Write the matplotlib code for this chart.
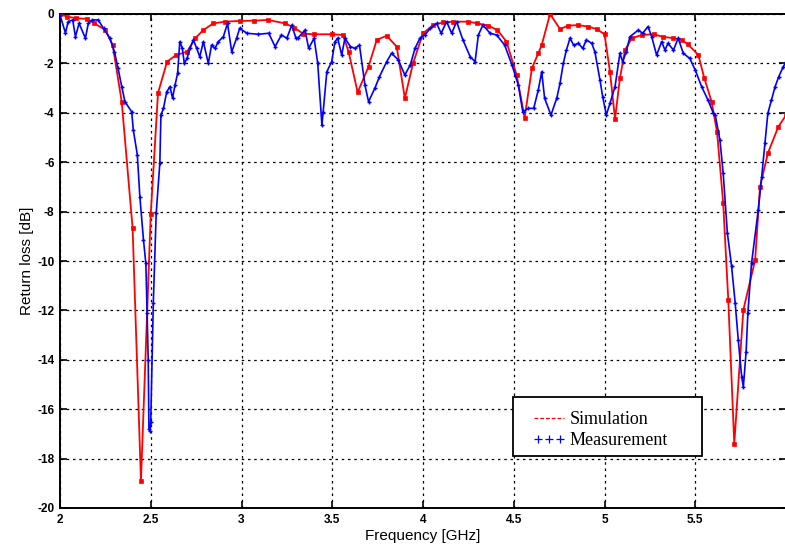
import matplotlib
matplotlib.use("Agg")
from matplotlib import pyplot as plt
from matplotlib.lines import Line2D
from matplotlib.patches import Rectangle
from matplotlib.legend_handler import HandlerLine2D
import numpy as np

# simulation (red), frequency in GHz / return loss in dB
sim_freq = [2.00, 2.04, 2.09, 2.15, 2.19, 2.25, 2.29, 2.34, 2.40, 2.446,
            2.50, 2.54, 2.59, 2.64, 2.70, 2.745, 2.79, 2.845, 2.91, 2.99,
            3.07, 3.145, 3.24, 3.29, 3.34, 3.40, 3.50, 3.56, 3.59, 3.64,
            3.70, 3.745, 3.80, 3.855, 3.90, 3.945, 4.00, 4.057, 4.11, 4.165,
            4.25, 4.30, 4.36, 4.41, 4.46, 4.516, 4.56, 4.60, 4.635, 4.654,
            4.70, 4.755, 4.80, 4.855, 4.91, 4.957, 5.00, 5.03, 5.058, 5.085,
            5.113, 5.15, 5.205, 5.27, 5.32, 5.38, 5.425, 5.46, 5.517, 5.55,
            5.59, 5.62, 5.654, 5.682, 5.715, 5.765, 5.83, 5.857, 5.90, 5.958,
            6.00]
sim_db = [0.0, -0.11, -0.17, -0.20, -0.38, -0.65, -1.25, -3.55, -8.66, -18.9,
          -8.1, -3.2, -1.93, -1.66, -1.53, -0.98, -0.65, -0.38, -0.31, -0.28,
          -0.27, -0.24, -0.38, -0.55, -0.80, -0.82, -0.82, -0.85, -1.53, -3.17,
          -2.13, -1.05, -0.88, -1.32, -3.41, -2.0, -0.78, -0.45, -0.34, -0.31,
          -0.31, -0.38, -0.47, -0.65, -1.12, -2.47, -4.2, -2.2, -1.59, -1.26,
          0.0, -0.61, -0.47, -0.45, -0.51, -0.61, -0.82, -2.33, -4.25, -2.6,
          -1.46, -0.98, -0.85, -0.82, -0.92, -0.98, -1.05, -1.23, -1.66, -2.6,
          -3.55, -4.77, -7.66, -11.58, -17.4, -11.98, -9.96, -6.99, -5.64, -4.56,
          -4.1]

# measurement (blue)
meas_freq = [2.00, 2.03, 2.045, 2.07, 2.085, 2.105, 2.14, 2.156, 2.178, 2.21,
             2.24, 2.275, 2.30, 2.32, 2.34, 2.358, 2.395, 2.404, 2.426, 2.44,
             2.46, 2.473, 2.48, 2.486, 2.49, 2.496, 2.50, 2.514, 2.53, 2.55,
             2.556, 2.57, 2.588, 2.606, 2.62, 2.634, 2.648, 2.66, 2.674, 2.685,
             2.70, 2.716, 2.735, 2.753, 2.77, 2.79, 2.817, 2.835, 2.854, 2.872,
             2.90, 2.923, 2.946, 2.973, 2.99, 3.03, 3.093, 3.15, 3.185, 3.22,
             3.25, 3.277, 3.30, 3.31, 3.35, 3.37, 3.40, 3.42, 3.443, 3.45,
             3.47, 3.497, 3.515, 3.53, 3.552, 3.57, 3.60, 3.625, 3.65, 3.68,
             3.70, 3.735, 3.76, 3.80, 3.827, 3.864, 3.90, 3.93, 3.956, 3.983,
             4.01, 4.04, 4.075, 4.10, 4.13, 4.158, 4.185, 4.22, 4.26, 4.287,
             4.305, 4.33, 4.37, 4.406, 4.45, 4.49, 4.525, 4.55, 4.58, 4.61,
             4.635, 4.654, 4.67, 4.705, 4.737, 4.755, 4.773, 4.79, 4.81, 4.83,
             4.856, 4.88, 4.90, 4.93, 4.947, 4.975, 4.99, 5.01, 5.03, 5.058,
             5.085, 5.10, 5.12, 5.14, 5.186, 5.21, 5.24, 5.26, 5.287, 5.315,
             5.333, 5.35, 5.38, 5.406, 5.434, 5.47, 5.50, 5.535, 5.57, 5.60,
             5.61, 5.636, 5.654, 5.677, 5.70, 5.72, 5.737, 5.756, 5.765, 5.78,
             5.79, 5.81, 5.847, 5.866, 5.884, 5.90, 5.92, 5.94, 5.96, 5.985,
             6.00]
meas_db = [-0.04, -0.77, -0.31, -0.24, -0.92, -0.38, -0.98, -0.38, -0.24, -0.24,
           -0.58, -0.98, -1.53, -2.2, -2.94, -3.55, -3.96, -4.7, -5.7, -7.4,
           -9.15, -10.1, -12.1, -14.0, -16.8, -16.9, -16.5, -11.7, -8.07, -6.05,
           -4.09, -3.82, -3.15, -2.94, -3.41, -2.87, -2.4, -1.12, -1.39, -2.0,
           -1.8, -1.39, -1.05, -1.39, -1.73, -1.12, -2.0, -1.26, -1.39, -1.12,
           -0.92, -0.38, -1.53, -0.98, -0.58, -0.78, -0.82, -0.78, -1.32, -0.85,
           -0.98, -0.45, -0.98, -0.98, -0.65, -1.39, -0.98, -2.0, -4.5, -3.96,
           -2.34, -1.93, -1.12, -0.98, -1.66, -0.98, -1.32, -1.39, -1.26, -2.87,
           -3.55, -3.0, -2.54, -1.93, -1.59, -1.86, -2.47, -2.06, -1.39, -0.98,
           -0.85, -0.58, -0.38, -0.78, -0.31, -0.78, -0.31, -1.05, -1.73, -1.93,
           -0.85, -0.45, -0.78, -0.85, -1.26, -2.06, -2.87, -3.96, -3.82, -3.82,
           -3.08, -2.34, -3.41, -4.09, -3.41, -2.8, -2.0, -1.46, -0.98, -1.26,
           -1.19, -1.39, -1.05, -1.19, -1.53, -2.67, -3.35, -4.09, -3.62, -2.94,
           -1.59, -1.93, -1.53, -0.92, -0.65, -0.78, -0.51, -0.92, -1.66, -1.12,
           -1.46, -1.19, -1.46, -0.98, -1.59, -1.8, -2.27, -2.94, -3.48, -4.02,
           -4.09, -5.1, -6.45, -8.87, -10.2, -11.7, -13.2, -14.7, -15.1, -13.7,
           -12.1, -10.1, -7.94, -6.59, -5.24, -4.02, -3.48, -2.94, -2.54, -2.13,
           -1.95]

xticks = [2, 2.5, 3, 3.5, 4, 4.5, 5, 5.5, 6]
xtick_labels = ["2", "2.5", "3", "3.5", "4", "4.5", "5", "5.5", ""]
yticks = list(range(-20, 1, 2))
legend_labels = ["Simulation", "Measurement"]

plt.rcParams["axes.unicode_minus"] = False
plt.rcParams["font.family"] = ["Liberation Sans", "DejaVu Sans"]

fig = plt.figure(figsize=(7.85, 5.46), dpi=100)
ax = fig.add_axes([60 / 785, 38 / 546, 726 / 785, 494 / 546])

ax.plot(sim_freq, sim_db, color="red", lw=1.3, marker="s", ms=3.0,
        markeredgewidth=0.5, zorder=3)
ax.plot(meas_freq, meas_db, color="blue", lw=1.2, marker="+", ms=3.5,
        markeredgewidth=1.0, zorder=4)

ax.set_xlim(2, 6)
ax.set_ylim(-20, 0)
ax.set_xticks(xticks)
ax.set_xticklabels(xtick_labels)
ax.set_yticks(yticks)
ax.grid(True, color="black", linestyle=(0, (2, 3)), lw=0.9)
ax.tick_params(direction="in", length=5, width=1.2, top=True, right=True,
               labelsize=8.5, pad=4)
for lab in ax.get_xticklabels() + ax.get_yticklabels():
    lab.set_fontweight("bold")
for sp in ax.spines.values():
    sp.set_linewidth(1.4)

ax.set_xlabel("Frequency [GHz]", fontsize=11, labelpad=2.5)
ax.set_ylabel("Return loss [dB]", fontsize=11, labelpad=2)

# legend frame drawn separately so the entries sit like the matlab box
frame = Rectangle((0.624, 0.105), 0.260, 0.119, transform=ax.transAxes,
                  facecolor="white", edgecolor="black", lw=1.3, zorder=5)
ax.add_patch(frame)

sim_handle = Line2D([], [], color="red", linestyle=(0, (3, 1.6)), lw=0.9)
meas_handle = Line2D([], [], color="blue", linestyle="none", marker="+", ms=6,
                     markeredgewidth=0.9)
leg = ax.legend([sim_handle, meas_handle], legend_labels, loc="upper left",
                bbox_to_anchor=(0.6455, 0.1964), numpoints=3,
                handlelength=2.28, handletextpad=0.0, labelspacing=0.25,
                borderpad=0, borderaxespad=0, frameon=False,
                handler_map={meas_handle: HandlerLine2D(marker_pad=0.53)},
                prop={"family": "Liberation Serif", "size": 13})
leg.set_zorder(6)

fig.savefig("out.png", dpi=100)
